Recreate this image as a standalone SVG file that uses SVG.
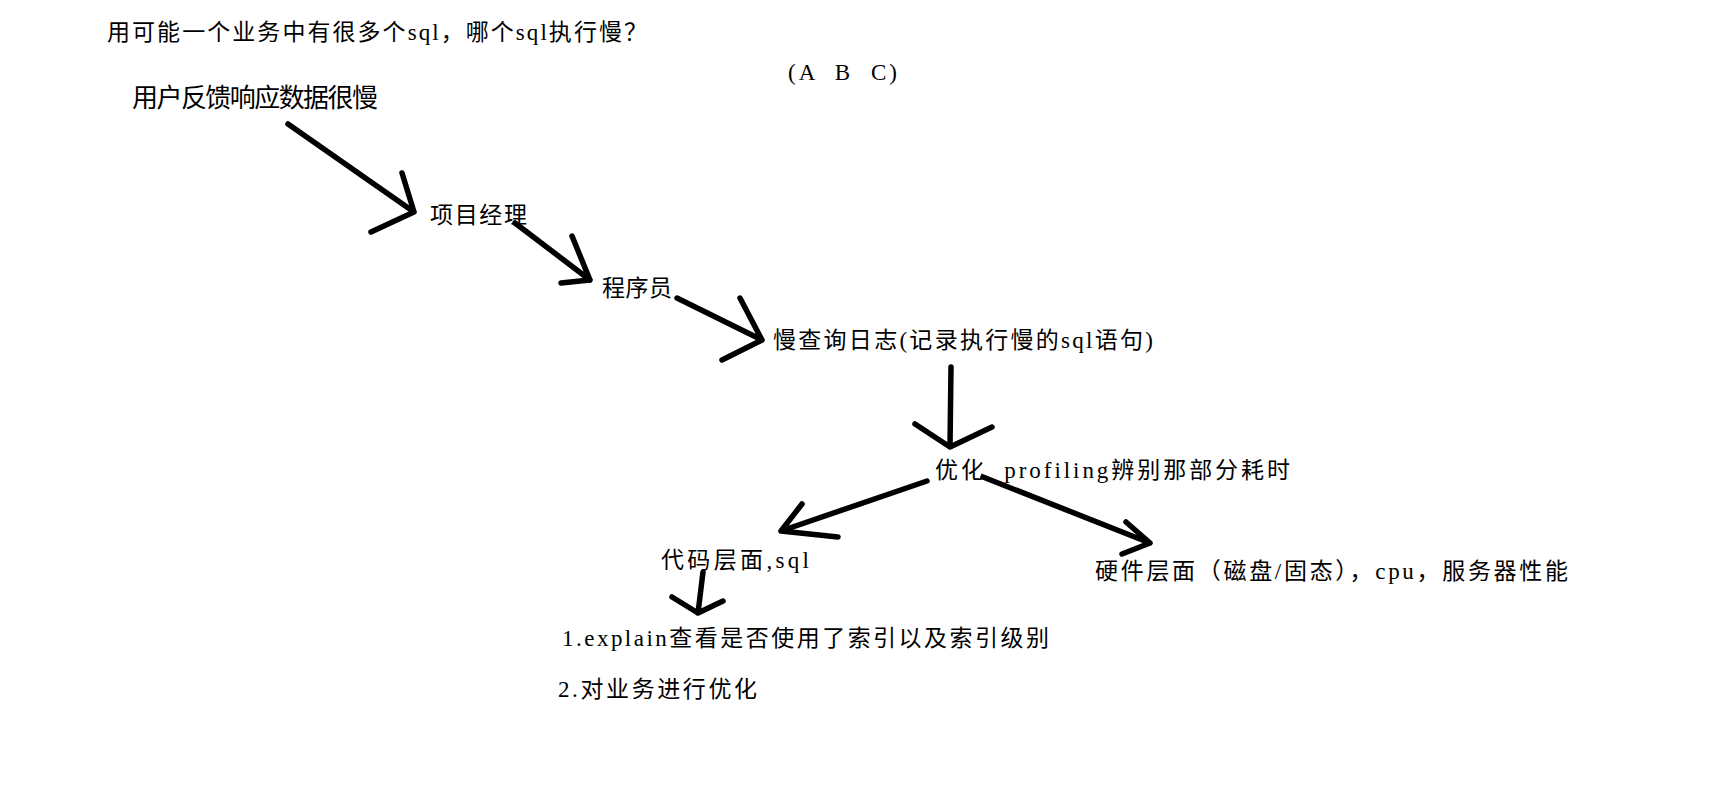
<svg xmlns="http://www.w3.org/2000/svg" width="1734" height="801" viewBox="0 0 1734 801">
<style>
.t{font-family:"Liberation Serif","Noto Sans CJK SC",serif;font-size:23px;fill:#000}
.c{fill:none;stroke:#000;stroke-width:5.5;stroke-linecap:round;stroke-linejoin:round}
</style>
<rect width="1734" height="801" fill="#fff"/>
<g id="question"><text class="t" x="107" y="40" textLength="540" lengthAdjust="spacing">用可能一个业务中有很多个sql，哪个sql执行慢？</text></g>
<g id="abc"><text class="t" x="788" y="80" textLength="109" lengthAdjust="spacing" xml:space="preserve">(A  B  C)</text></g>
<g id="user"><text class="t" x="132" y="107" style="font-size:26px" textLength="246" lengthAdjust="spacing">用户反馈响应数据很慢</text></g>
<g id="pm"><text class="t" x="430" y="223" textLength="97" lengthAdjust="spacing">项目经理</text></g>
<g id="dev"><text class="t" x="602" y="296" textLength="70" lengthAdjust="spacing">程序员</text></g>
<g id="slowlog"><text class="t" x="773" y="348" textLength="380" lengthAdjust="spacing">慢查询日志(记录执行慢的sql语句)</text></g>
<g id="optimize"><text class="t" x="935" y="478" textLength="355" lengthAdjust="spacing" xml:space="preserve">优化  profiling辨别那部分耗时</text></g>
<g id="code"><text class="t" x="661" y="568" textLength="148" lengthAdjust="spacing">代码层面,sql</text></g>
<g id="hardware"><text class="t" x="1095" y="579" textLength="473" lengthAdjust="spacing">硬件层面（磁盘/固态），cpu，服务器性能</text></g>
<g id="step1"><text class="t" x="562" y="646" textLength="487" lengthAdjust="spacing">1.explain查看是否使用了索引以及索引级别</text></g>
<g id="step2"><text class="t" x="558" y="697" textLength="199" lengthAdjust="spacing">2.对业务进行优化</text></g>
<g id="connectors">
<path class="c" d="M288 124 L414 212 M402 173 L414 212 L371 232"/>
<path class="c" d="M515 223 L590 280 M572 236 L590 280 L561 283"/>
<path class="c" d="M677 298 L762 340 M740 298 L762 340 L722 360"/>
<path class="c" d="M951 367 L950 447 M915 424 L950 447 L992 427"/>
<path class="c" d="M927 481 L781 531 M802 504 L781 531 L838 537"/>
<path class="c" d="M983 477 L1150 543 M1126 522 L1150 543 L1122 554"/>
<path class="c" d="M703 572 L698 613 M672 597 L698 613 L723 601"/>
</g>
</svg>
